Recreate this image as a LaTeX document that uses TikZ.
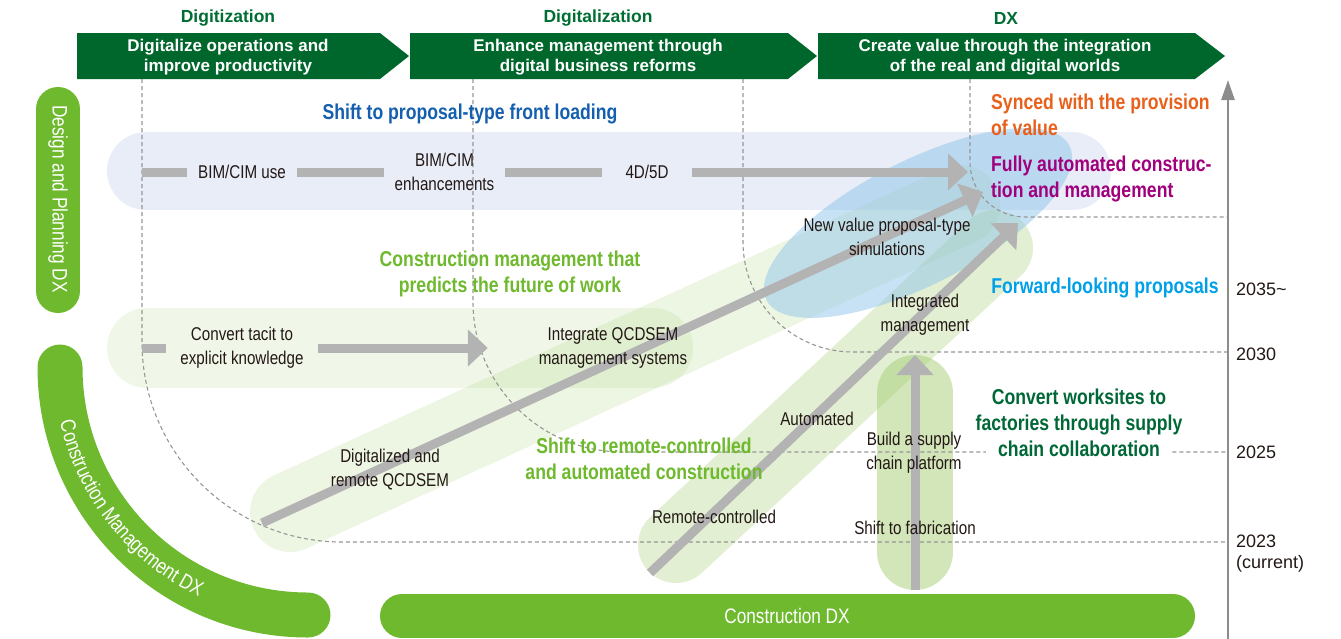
\documentclass[tikz,border=0pt]{standalone}
\usepackage{fontspec}
\setmainfont{Liberation Sans}
\newfontfamily\condf[FakeStretch=0.82]{Liberation Sans}
\usetikzlibrary{arrows.meta,decorations.text}

\definecolor{bannergreen}{RGB}{0,103,44}
\definecolor{headgreen}{RGB}{0,110,50}
\definecolor{leafgreen}{RGB}{110,185,45}
\definecolor{inkdark}{RGB}{35,24,21}
\definecolor{bargray}{RGB}{179,179,179}
\definecolor{guidegray}{RGB}{150,150,150}
\definecolor{axisgray}{RGB}{140,140,140}
\definecolor{paleblue}{RGB}{232,237,248}
\definecolor{washgreen}{RGB}{165,205,115}
\definecolor{skyblue}{RGB}{140,195,235}
\definecolor{frontblue}{RGB}{20,95,175}
\definecolor{valueorange}{RGB}{232,96,25}
\definecolor{autopurple}{RGB}{160,0,125}
\definecolor{fwdcyan}{RGB}{0,160,233}
\definecolor{sitegreen}{RGB}{0,104,55}

\tikzset{
  banner/.style={fill=bannergreen},
  bannertext/.style={text=white, font=\fontsize{17}{20}\selectfont\bfseries, align=center, inner sep=0pt},
  phase/.style={text=headgreen, font=\fontsize{17.5}{20}\selectfont\bfseries, inner sep=0pt},
  lbl/.style={text=inkdark, font=\condf\fontsize{18.5}{24}\selectfont, align=center, inner sep=0pt},
  theme/.style={font=\condf\bfseries\fontsize{21.5}{26}\selectfont, align=center, inner sep=0pt},
  year/.style={text=inkdark, font=\fontsize{18}{21}\selectfont, align=left, inner sep=0pt, anchor=west},
  guide/.style={draw=guidegray, line width=1.1pt, dash pattern=on 4pt off 3pt},
  bar/.style={draw=bargray, line width=9pt},
  bararrow/.style={bar, -{Triangle[length=20pt,width=36pt]}},
  wash/.style={draw=washgreen, line cap=round},
  pill/.style={draw=leafgreen, line width=44pt, line cap=round},
  pilltext/.style={text=white, font=\condf\fontsize{21}{24}\selectfont, inner sep=0pt},
  axisline/.style={draw=axisgray, line width=2.5pt, -{Triangle[length=20pt,width=13pt]}},
}

\begin{document}
\begin{tikzpicture}[x=1pt,y=1pt]
\useasboundingbox (0,0) rectangle (1341,-638);

% soft background bands
\draw[draw=paleblue, line width=78pt, line cap=round] (146,-171) -- (1072,-171);
\draw[wash, line width=80pt, draw opacity=.16] (147,-348) -- (653,-348);
\draw[wash, line width=80pt, draw opacity=.2] (290,-512) -- (960,-205);
\draw[wash, line width=76pt, draw opacity=.32] (676,-545) -- (995,-248);
\fill[skyblue, opacity=.48, rotate around={27:(918,-223)}] (918,-223) ellipse [x radius=170, y radius=62];
\draw[wash, line width=76pt, draw opacity=.5] (915,-393) -- (915,-552);

% domain pills
\draw[pill] (58,-109) -- (58,-291);
\draw[pill, line width=45pt] (60,-367) arc[start angle=180, end angle=270, radius=248];
\draw[pill] (402,-616) -- (1173,-616);
\node[pilltext, rotate=-90] (dpdx) at (58,-199) {Design and Planning DX};
\node[pilltext] (cdx) at (787,-616) {Construction DX};
\path[decorate, decoration={text along path, text align=center,
  text={|\condf\fontsize{21}{21}\selectfont\color{white}|Construction Management DX}}]
  (54,-367) arc[start angle=180, end angle=257, radius=254];

% phase banners
\fill[banner] (77,-33) -- (380,-33) -- (409,-56) -- (380,-79) -- (77,-79) -- cycle;
\fill[banner] (410,-33) -- (788,-33) -- (817,-56) -- (788,-79) -- (410,-79) -- cycle;
\fill[banner] (818,-33) -- (1195,-33) -- (1225,-56) -- (1195,-79) -- (818,-79) -- cycle;
\node[phase] (ph1) at (228,-18) {Digitization};
\node[phase] (ph2) at (598,-18) {Digitalization};
\node[phase] (ph3) at (1006,-18) {DX};
\node[bannertext] (bn1) at (228,-57) {Digitalize operations and\\improve productivity};
\node[bannertext] (bn2) at (598,-57) {Enhance management through\\digital business reforms};
\node[bannertext] (bn3) at (1005,-57) {Create value through the integration\\of the real and digital worlds};

% time guides
\draw[guide] (142,-79) -- (142,-342) arc[start angle=180, end angle=270, radius=200] -- (1228,-542);
\draw[guide] (473,-79) -- (473,-302) arc[start angle=180, end angle=270, radius=150] -- (1228,-452);
\draw[guide] (743,-79) -- (743,-242) arc[start angle=180, end angle=270, radius=110] -- (1228,-352);
\draw[guide] (970,-79) -- (970,-162) arc[start angle=180, end angle=270, radius=55] -- (1228,-217);

% long progress arrows
\coordinate (aS) at (262,-523);
\coordinate (aE) at (983,-192);
\coordinate (bS) at (650,-573);
\coordinate (bE) at (1018,-223);
\coordinate (cS) at (915,-590);
\coordinate (cE) at (915,-355);
\draw[bararrow] (aS) -- (aE);
\draw[bararrow] (bS) -- (bE);
\draw[bararrow] (cS) -- (cE);

% time axis
\coordinate (axB) at (1228,-640);
\coordinate (axT) at (1228,-80);
\draw[axisline] (axB) -- (axT);
\node[year] (y35) at (1236,-289) {2035\textasciitilde};
\node[year] (y30) at (1236,-354) {2030};
\node[year] (y25) at (1236,-452) {2025};
\node[year] (y23) at (1236,-554) {2023\\(current)};

% step labels
\node[lbl, minimum width=110pt] (bim1) at (242,-172) {BIM/CIM use};
\node[lbl, minimum width=121pt] (bim2) at (444.5,-172) {BIM/CIM\\enhancements};
\node[lbl, minimum width=90pt] (d45) at (647,-172) {4D/5D};
\node[lbl, minimum width=152pt] (tacit) at (242,-348) {Convert tacit to\\explicit knowledge};
\node[lbl, minimum width=250pt] (integ) at (613,-348) {Integrate QCDSEM\\management systems};
\node[lbl] (digrem) at (390,-470) {Digitalized and\\remote QCDSEM};
\node[lbl] (newval) at (887,-237) {New value proposal-type\\simulations};
\node[lbl] (intm) at (925,-315) {Integrated\\management};
\node[lbl] (autom) at (817,-419) {Automated};
\node[lbl] (remc) at (714,-517) {Remote-controlled};
\node[lbl] (supply) at (914,-453) {Build a supply\\chain platform};
\node[lbl] (fab) at (915,-528) {Shift to fabrication};

% themes
\node[theme, text=frontblue] (front) at (470,-114) {Shift to proposal-type front loading};
\node[theme, text=valueorange, anchor=west, align=left] (synced) at (991,-115) {Synced with the provision\\of value};
\node[theme, text=autopurple, anchor=west, align=left] (fully) at (991,-179) {Fully automated construc-\\tion and management};
\node[theme, text=leafgreen] (cmfut) at (510,-274) {Construction management that\\predicts the future of work};
\node[theme, text=fwdcyan] (fwd) at (1105,-288) {Forward-looking proposals};
\node[theme, text=sitegreen, fill=white, inner xsep=-10pt, inner ysep=2pt] (sites) at (1079,-423) {Convert worksites to\\factories through supply\\chain collaboration};
\node[theme, text=leafgreen] (remote) at (644,-459) {Shift to remote-controlled\\and automated construction};

% step connectors
\coordinate (r1s) at (142,-172);
\coordinate (r1e) at (968,-172);
\coordinate (r2s) at (142,-348);
\draw[bar] (r1s) -- (bim1);
\draw[bar] (bim1) -- (bim2);
\draw[bar] (bim2) -- (d45);
\draw[bararrow] (d45) -- (r1e);
\draw[bar] (r2s) -- (tacit);
\draw[bararrow] (tacit) -- (integ);
\end{tikzpicture}
\end{document}
